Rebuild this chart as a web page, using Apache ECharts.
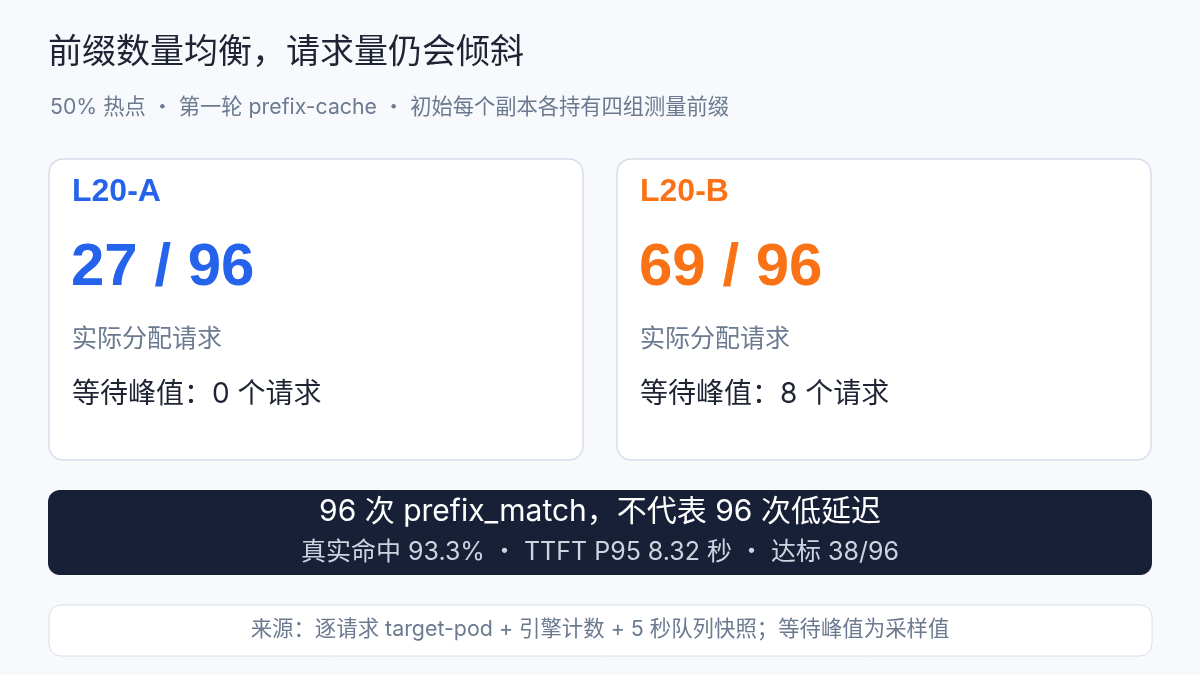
<!DOCTYPE html>
<html>
<head>
<meta charset="utf-8">
<title>前缀数量均衡，请求量仍会倾斜</title>
<script src="https://cdn.jsdelivr.net/npm/echarts@6/dist/echarts.min.js"></script>
<style>
  html, body { margin: 0; padding: 0; background: #f7f9fc; }
  #main { width: 1200px; height: 675px; }
</style>
</head>
<body>
<div id="main"></div>
<script>
// 数据
const pods = ['L20-A', 'L20-B'];
const assigned = [27, 69];
const totalRequests = 96;
const waitPeak = [0, 8];
const podColors = ['#2563eb', '#f97316'];
const hitRate = 93.3;
const ttftP95 = 8.32;
const metTarget = 38;

const TEXT_FONT = "Inter, 'Noto Sans CJK SC', sans-serif";
const NUM_FONT = "'Liberation Sans', Arial, sans-serif";
const SEP = ' ・ ';

const chart = echarts.init(document.getElementById('main'));

// 两张副本卡片
let cards = [];
pods.forEach(function (name, i) {
  const x = 49 + i * 568;
  cards.push({
    type: 'group',
    x: x,
    y: 159,
    children: [
      {
        type: 'rect',
        shape: { x: 0, y: 0, width: 534, height: 301, r: 14 },
        style: { fill: '#ffffff', stroke: '#d8dee9', lineWidth: 1.5 }
      },
      {
        type: 'text',
        x: 23, y: 33,
        style: { text: name, fill: podColors[i], font: 'bold 32px ' + NUM_FONT, verticalAlign: 'middle' }
      },
      {
        type: 'text',
        x: 22, y: 109,
        style: { text: assigned[i] + ' / ' + totalRequests, fill: podColors[i], font: 'bold 60px ' + NUM_FONT, verticalAlign: 'middle' }
      },
      {
        type: 'text',
        x: 23, y: 180,
        style: { text: '实际分配请求', fill: '#6b7a90', font: '25px ' + TEXT_FONT, verticalAlign: 'middle' }
      },
      {
        type: 'text',
        x: 23, y: 236,
        style: { text: '等待峰值：' + waitPeak[i] + ' 个请求', fill: '#1e2433', font: '28px ' + TEXT_FONT, verticalAlign: 'middle' }
      }
    ]
  });
});

const option = {
  backgroundColor: '#f7f9fc',
  graphic: [
    {
      type: 'text',
      x: 48, y: 53,
      style: { text: '前缀数量均衡，请求量仍会倾斜', fill: '#1e2433', font: '34px ' + TEXT_FONT, verticalAlign: 'middle' }
    },
    {
      type: 'text',
      x: 50, y: 108,
      style: {
        text: '50% 热点' + SEP + '第一轮 prefix-cache' + SEP + '初始每个副本各持有四组测量前缀',
        fill: '#6b7a90', font: '21.25px ' + TEXT_FONT, verticalAlign: 'middle'
      }
    }
  ].concat(cards).concat([
    {
      type: 'rect',
      shape: { x: 48, y: 490, width: 1104, height: 85, r: 12 },
      style: { fill: '#172036' }
    },
    {
      type: 'text',
      x: 600, y: 512,
      style: {
        text: totalRequests + ' 次 prefix_match，不代表 ' + totalRequests + ' 次低延迟',
        fill: '#ffffff', font: '30px ' + TEXT_FONT, align: 'center', verticalAlign: 'middle'
      }
    },
    {
      type: 'text',
      x: 600, y: 552,
      style: {
        text: '真实命中 ' + hitRate + '%' + SEP + 'TTFT P95 ' + ttftP95 + ' 秒' + SEP + '达标 ' + metTarget + '/' + totalRequests,
        fill: '#cbd5e1', font: '25px ' + TEXT_FONT, align: 'center', verticalAlign: 'middle'
      }
    },
    {
      type: 'rect',
      shape: { x: 49, y: 605, width: 1103, height: 51, r: 12 },
      style: { fill: '#ffffff', stroke: '#d8dee9', lineWidth: 1 }
    },
    {
      type: 'text',
      x: 600, y: 630,
      style: {
        text: '来源：逐请求 target-pod + 引擎计数 + 5 秒队列快照；等待峰值为采样值',
        fill: '#6b7a90', font: '21.4px ' + TEXT_FONT, align: 'center', verticalAlign: 'middle'
      }
    }
  ])
};

chart.setOption(option);
</script>
</body>
</html>
